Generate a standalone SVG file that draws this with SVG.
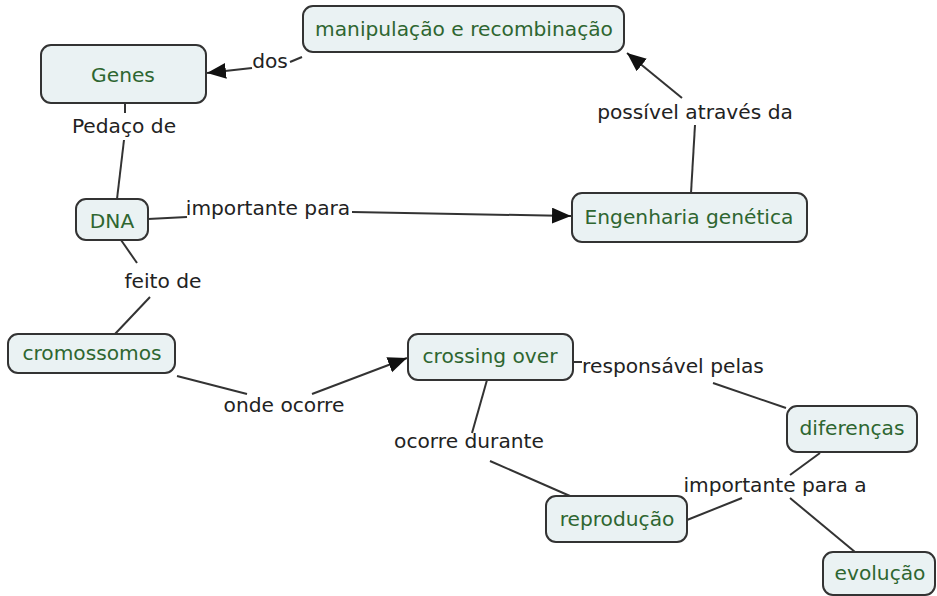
<svg xmlns="http://www.w3.org/2000/svg" width="937" height="596" viewBox="0 0 937 596">
<style>
.node rect{fill:#eaf2f3;stroke:#333;stroke-width:2}
.node text{fill:#2e6630;font-family:"DejaVu Sans",Verdana,sans-serif;font-size:20.2px;text-anchor:middle;dominant-baseline:central}
.lbl{fill:#222;font-family:"DejaVu Sans",Verdana,sans-serif;font-size:20.2px;text-anchor:middle;dominant-baseline:central}
#connectors line{stroke:#333;stroke-width:2;fill:none}
</style>
<defs>
<marker id="arr" markerUnits="userSpaceOnUse" markerWidth="22" markerHeight="18" refX="19" refY="8" orient="auto">
<path d="M0,0 L19,8 L0,16 z" fill="#111"/>
</marker>
</defs>
<rect width="937" height="596" fill="#fff"/>
<g id="connectors">
<line x1="290" y1="62" x2="302" y2="57"/>
<line x1="252" y1="68" x2="207" y2="73" marker-end="url(#arr)"/>
<line x1="125" y1="104" x2="125" y2="113"/>
<line x1="124" y1="140" x2="117" y2="199"/>
<line x1="148" y1="219" x2="187" y2="217"/>
<line x1="352" y1="212" x2="571" y2="216" marker-end="url(#arr)"/>
<line x1="691" y1="193" x2="695" y2="125"/>
<line x1="682" y1="98" x2="627" y2="53" marker-end="url(#arr)"/>
<line x1="121" y1="240" x2="137" y2="263"/>
<line x1="150" y1="297" x2="115" y2="334"/>
<line x1="177" y1="376" x2="247" y2="394"/>
<line x1="312" y1="394" x2="407" y2="358" marker-end="url(#arr)"/>
<line x1="573" y1="362" x2="582" y2="362"/>
<line x1="713" y1="383" x2="786" y2="408"/>
<line x1="487" y1="380" x2="472" y2="433"/>
<line x1="490" y1="461" x2="570" y2="496"/>
<line x1="820" y1="453" x2="790" y2="475"/>
<line x1="742" y1="498" x2="687" y2="520"/>
<line x1="790" y1="498" x2="855" y2="552"/>
</g>
<g id="labels">
<text class="lbl" x="270" y="61">dos</text>
<text class="lbl" x="124" y="126">Pedaço de</text>
<text class="lbl" x="268" y="208">importante para</text>
<text class="lbl" x="695" y="112">possível através da</text>
<text class="lbl" x="163" y="281">feito de</text>
<text class="lbl" x="284" y="405">onde ocorre</text>
<text class="lbl" x="673" y="366">responsável pelas</text>
<text class="lbl" x="469" y="441">ocorre durante</text>
<text class="lbl" x="775" y="485">importante para a</text>
</g>
<g id="n-manipulacao" class="node"><rect x="303" y="6" width="321" height="46" rx="10"/><text x="464" y="29">manipulação e recombinação</text></g>
<g id="n-genes" class="node"><rect x="41" y="45" width="165" height="58" rx="10"/><text x="123" y="75">Genes</text></g>
<g id="n-dna" class="node"><rect x="76" y="199" width="72" height="41" rx="10"/><text x="112" y="221">DNA</text></g>
<g id="n-engenharia" class="node"><rect x="572" y="193" width="235" height="49" rx="10"/><text x="689" y="217">Engenharia genética</text></g>
<g id="n-cromossomos" class="node"><rect x="8" y="334" width="167" height="39" rx="10"/><text x="92" y="353">cromossomos</text></g>
<g id="n-crossing" class="node"><rect x="408" y="334" width="165" height="46" rx="10"/><text x="490" y="356">crossing over</text></g>
<g id="n-diferencas" class="node"><rect x="787" y="406" width="130" height="46" rx="10"/><text x="852" y="428">diferenças</text></g>
<g id="n-reproducao" class="node"><rect x="546" y="496" width="141" height="46" rx="10"/><text x="617" y="519">reprodução</text></g>
<g id="n-evolucao" class="node"><rect x="823" y="552" width="112" height="43" rx="10"/><text x="880" y="573">evolução</text></g>
</svg>
